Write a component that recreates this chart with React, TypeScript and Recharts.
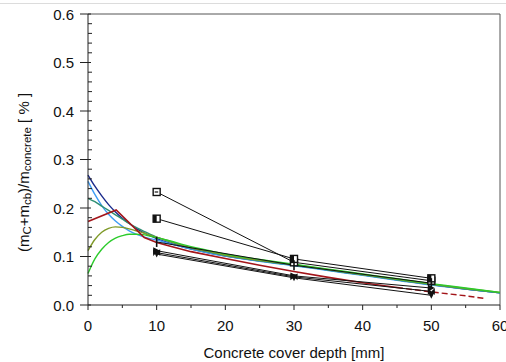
import React from 'react';
import { LineChart, Line, XAxis, YAxis, ReferenceLine } from 'recharts';

// ---- data ----
const curveX = [0, 1, 2, 3, 4, 5, 6, 7, 8, 9, 10, 12, 14, 16, 18, 20, 25, 30, 35, 40, 45, 50, 55, 60];
const navyY = [0.268, 0.245, 0.225, 0.207, 0.192, 0.179, 0.168, 0.158, 0.150, 0.143, 0.137, 0.127, 0.119, 0.112, 0.106, 0.101, 0.091, 0.082, 0.072, 0.062, 0.052, 0.042, 0.033, 0.025];
const lightBlueY = [0.255, 0.228, 0.205, 0.187, 0.173, 0.162, 0.153, 0.146, 0.141, 0.137, 0.134, 0.126, 0.119, 0.112, 0.106, 0.101, 0.090, 0.081, 0.071, 0.061, 0.051, 0.041, 0.033, 0.025];
const tealY = [0.220, 0.213, 0.204, 0.195, 0.186, 0.177, 0.168, 0.160, 0.153, 0.146, 0.140, 0.130, 0.121, 0.114, 0.108, 0.102, 0.091, 0.082, 0.072, 0.062, 0.052, 0.042, 0.033, 0.025];
const oliveY = [0.112, 0.135, 0.150, 0.158, 0.161, 0.160, 0.157, 0.153, 0.149, 0.144, 0.140, 0.131, 0.122, 0.115, 0.109, 0.103, 0.092, 0.083, 0.073, 0.063, 0.053, 0.043, 0.034, 0.026];
const greenY = [0.065, 0.095, 0.115, 0.129, 0.138, 0.143, 0.146, 0.146, 0.145, 0.142, 0.139, 0.132, 0.124, 0.117, 0.111, 0.105, 0.094, 0.084, 0.074, 0.064, 0.054, 0.044, 0.035, 0.026];
const redX = [0, 4.1, 8.2, 10, 12, 15, 20, 25, 30, 35, 40, 45];
const redY = [0.172, 0.196, 0.139, 0.129, 0.121, 0.110, 0.096, 0.082, 0.069, 0.057, 0.046, 0.036];
const redTailX = [45, 50, 55, 58];
const redTailY = [0.036, 0.027, 0.019, 0.013];

const depthX = [10, 30, 50];
const s1Y = [0.233, 0.088, 0.050];
const s2Y = [0.178, 0.095, 0.055];
const s3Y = [0.130, 0.082, 0.045];
const s4Y = [0.112, 0.060, 0.035];
const s5Y = [0.108, 0.058, 0.028];
const s6Y = [0.105, 0.056, 0.020];

const xTicks = [0, 5, 10, 15, 20, 25, 30, 35, 40, 45, 50, 55, 60];
const yTicks = [0, 0.02, 0.04, 0.06, 0.08, 0.1, 0.12, 0.14, 0.16, 0.18, 0.2, 0.22, 0.24, 0.26, 0.28, 0.3, 0.32, 0.34, 0.36, 0.38, 0.4, 0.42, 0.44, 0.46, 0.48, 0.5, 0.52, 0.54, 0.56, 0.58, 0.6];

const zip = (xs: number[], ys: number[]) => xs.map((x, i) => ({ x, y: ys[i] }));

const FONT = '"Liberation Sans", Arial, sans-serif';

const curves = [
  { name: 'navy', data: zip(curveX, navyY), color: '#1a2a8c' },
  { name: 'lightblue', data: zip(curveX, lightBlueY), color: '#3d9cf5' },
  { name: 'teal', data: zip(curveX, tealY), color: '#2f8f73' },
  { name: 'olive', data: zip(curveX, oliveY), color: '#7f9a28' },
  { name: 'green', data: zip(curveX, greenY), color: '#2ccb2c' },
];

const blackSeries = [
  { name: 's1', data: zip(depthX, s1Y), mk: 'sqE' },
  { name: 's2', data: zip(depthX, s2Y), mk: 'sqHalf' },
  { name: 's3', data: zip(depthX, s3Y), mk: 'bar' },
  { name: 's4', data: zip(depthX, s4Y), mk: 'tri' },
  { name: 's5', data: zip(depthX, s5Y), mk: 'bow' },
  { name: 's6', data: zip(depthX, s6Y), mk: 'tri2' },
];

const renderMarker = (mk: string) => (p: any) => {
  const { cx, cy, index } = p;
  const k = `${mk}-${index}`;
  if (cx == null || cy == null) return <g key={k} />;
  switch (mk) {
    case 'sqE':
      return (
        <g key={k}>
          <rect x={cx - 3.5} y={cy - 3.5} width={7} height={7} fill="#fff" stroke="#111" strokeWidth={1.4} />
          <line x1={cx - 2} y1={cy} x2={cx + 1.5} y2={cy} stroke="#111" strokeWidth={1.2} />
        </g>
      );
    case 'sqHalf':
      return (
        <g key={k}>
          <rect x={cx - 3.5} y={cy - 3.5} width={7} height={7} fill="#fff" stroke="#111" strokeWidth={1.4} />
          <rect x={cx - 3.5} y={cy - 3.5} width={3.5} height={7} fill="#111" />
        </g>
      );
    case 'bar':
      return (
        <g key={k}>
          <line x1={cx} y1={cy - 5} x2={cx} y2={cy + 5} stroke="#111" strokeWidth={1.6} />
        </g>
      );
    case 'tri':
      return <path key={k} d={`M${cx - 3.5},${cy - 3.5} L${cx + 3.5},${cy} L${cx - 3.5},${cy + 3.5} Z`} fill="#111" />;
    case 'bow':
      return <path key={k} d={`M${cx - 3.5},${cy - 3.5} L${cx + 3.5},${cy + 3.5} L${cx + 3.5},${cy - 3.5} L${cx - 3.5},${cy + 3.5} Z`} fill="#111" />;
    default:
      return <path key={k} d={`M${cx - 3.5},${cy - 3.5} L${cx + 3.5},${cy - 3.5} L${cx},${cy + 3.5} Z`} fill="#111" />;
  }
};

const XTick = (p: any) => {
  const { x, y, payload } = p;
  const v = payload.value as number;
  const major = v % 10 === 0;
  return (
    <g>
      <line x1={x} y1={y} x2={x} y2={y + (major ? 5 : 3)} stroke="#222" strokeWidth={1} />
      {major && (
        <text x={x} y={y + 26} textAnchor="middle" fontSize={15} fontFamily={FONT} fill="#111">
          {v}
        </text>
      )}
    </g>
  );
};

const YTick = (p: any) => {
  const { x, y, payload } = p;
  const v = payload.value as number;
  const major = Math.abs(v * 10 - Math.round(v * 10)) < 1e-6;
  return (
    <g>
      {major ? (
        <line x1={x - 8} y1={y} x2={x + 3} y2={y} stroke="#222" strokeWidth={1} />
      ) : (
        <line x1={x} y1={y} x2={x + 4} y2={y} stroke="#222" strokeWidth={1} />
      )}
      {major && (
        <text x={x - 14} y={y} textAnchor="end" dominantBaseline="central" fontSize={15} fontFamily={FONT} fill="#111">
          {v.toFixed(1)}
        </text>
      )}
    </g>
  );
};

const XLabel = (p: any) => {
  const vb = p.viewBox || {};
  return (
    <text x={vb.x + vb.width / 2} y={vb.y + 53} textAnchor="middle" fontSize={15} fontFamily={FONT} fill="#111">
      Concrete cover depth [mm]
    </text>
  );
};

const YLabel = (p: any) => {
  const vb = p.viewBox || {};
  const cx = 23;
  const cy = vb.y + vb.height / 2 + 13;
  return (
    <text
      x={cx}
      y={cy}
      transform={`rotate(-90 ${cx} ${cy})`}
      textAnchor="middle"
      dominantBaseline="central"
      fontSize={15}
      fontFamily={FONT}
      fill="#111"
    >
      <tspan>(m</tspan>
      <tspan fontSize={11.5} dy={4}>C</tspan>
      <tspan dy={-4}>+m</tspan>
      <tspan fontSize={11.5} dy={4}>cb</tspan>
      <tspan dy={-4}>)/m</tspan>
      <tspan fontSize={11.5} dy={4}>concrete</tspan>
      <tspan dy={-4}> [ % ]</tspan>
    </text>
  );
};

export default function App() {
  return (
    <div style={{ position: 'absolute', left: 0, top: 0, width: 506, height: 362, background: '#fff' }}>
      <div style={{ position: 'absolute', left: 0, top: 3, width: 506, height: 1, background: '#dcdcdc' }} />
      <LineChart width={506} height={362} margin={{ top: 14, right: 6, bottom: 0, left: 0 }}>
        <XAxis
          dataKey="x"
          type="number"
          domain={[0, 60]}
          ticks={xTicks}
          interval={0}
          tickSize={0}
          tickMargin={0}
          tickLine={false}
          tick={<XTick />}
          height={57}
          axisLine={{ stroke: '#222', strokeWidth: 1 }}
          allowDuplicatedCategory={false}
          label={<XLabel />}
        />
        <YAxis
          dataKey="y"
          type="number"
          domain={[0, 0.6]}
          ticks={yTicks}
          interval={0}
          tickSize={0}
          tickMargin={0}
          tickLine={false}
          tick={<YTick />}
          width={88}
          axisLine={{ stroke: '#222', strokeWidth: 1 }}
          label={<YLabel />}
        />
        <ReferenceLine y={0.6} stroke="#555" strokeWidth={1} />
        <ReferenceLine x={60} stroke="#555" strokeWidth={1} />
        {curves.map((c) => (
          <Line
            key={c.name}
            data={c.data}
            dataKey="y"
            type="monotone"
            stroke={c.color}
            strokeWidth={1.4}
            dot={false}
            isAnimationActive={false}
          />
        ))}
        <Line data={zip(redX, redY)} dataKey="y" type="linear" stroke="#a3151a" strokeWidth={1.6} dot={false} isAnimationActive={false} />
        <Line data={zip(redTailX, redTailY)} dataKey="y" type="linear" stroke="#a3151a" strokeWidth={1.4} strokeDasharray="6 3" dot={false} isAnimationActive={false} />
        {blackSeries.map((s) => (
          <Line
            key={s.name}
            data={s.data}
            dataKey="y"
            type="linear"
            stroke="#111"
            strokeWidth={1}
            dot={renderMarker(s.mk)}
            isAnimationActive={false}
          />
        ))}
      </LineChart>
    </div>
  );
}
